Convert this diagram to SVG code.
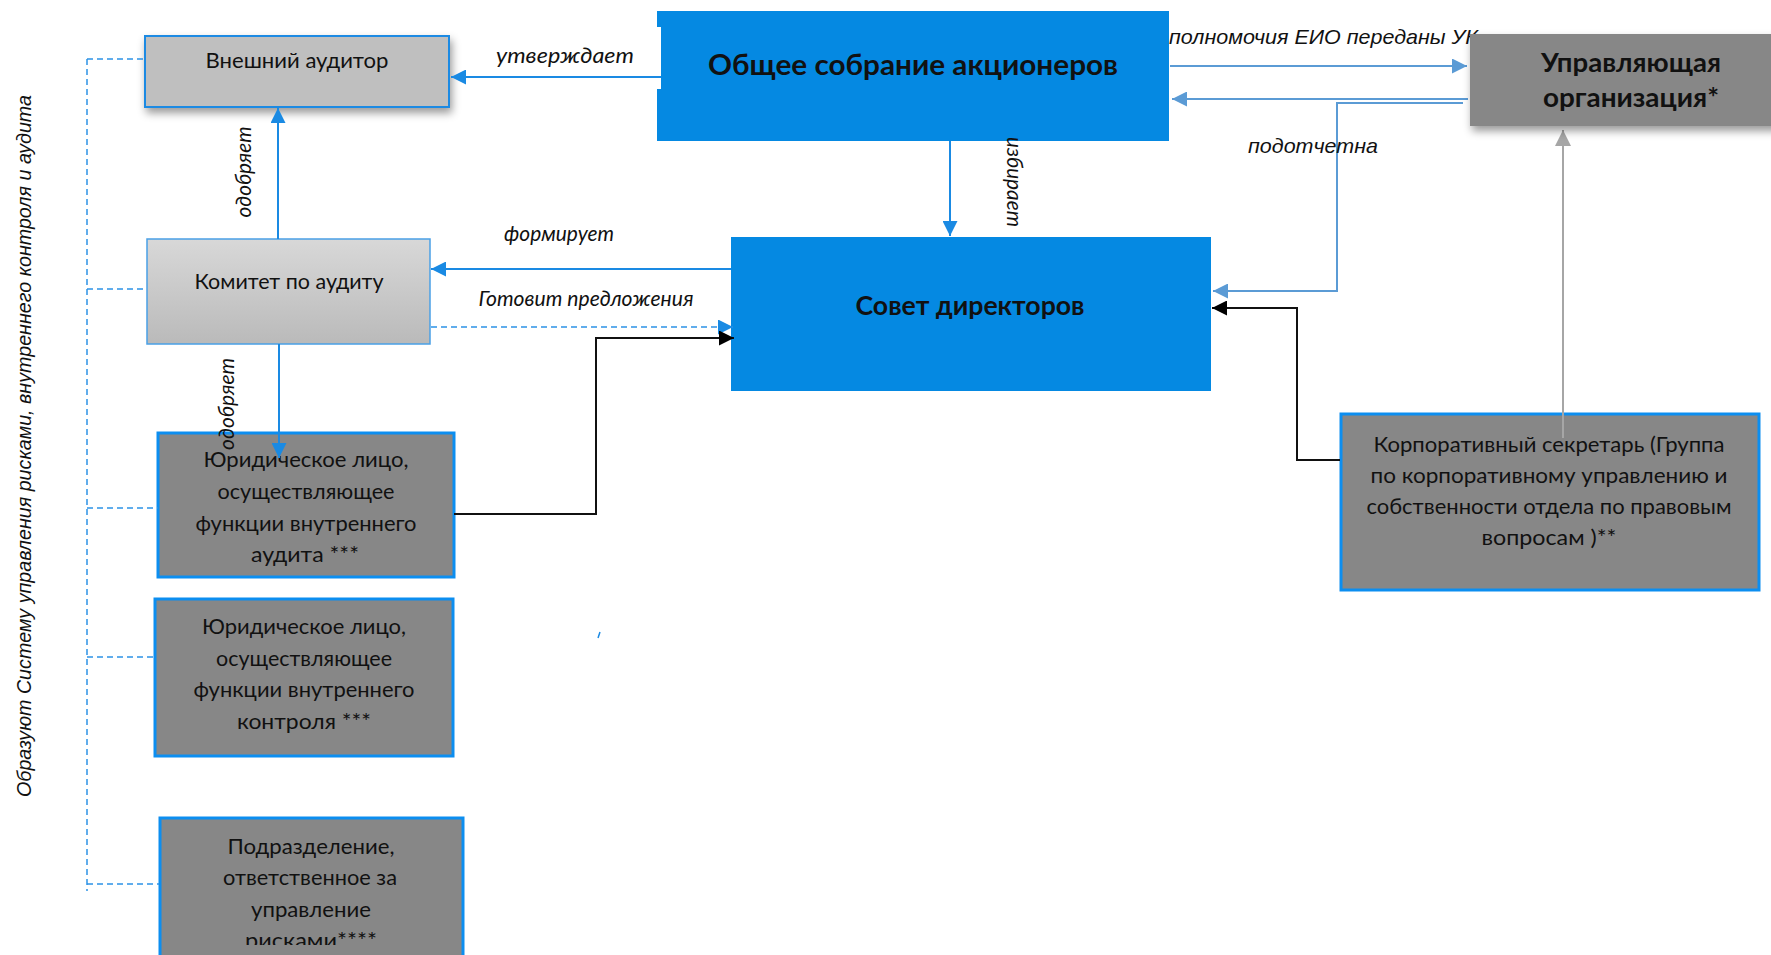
<svg xmlns="http://www.w3.org/2000/svg" width="1771" height="955" viewBox="0 0 1771 955">
<style>
.cal{font-family:Lato,"Open Sans","Noto Sans",sans-serif;fill:#111}
.n{font-size:22px}
.b{font-weight:bold}
.it{font-family:Lato,"Open Sans","Noto Sans",sans-serif;font-style:italic;font-size:21px;fill:#111}
.ar{font-family:"Liberation Sans",Arial,sans-serif;font-style:italic;font-size:21px;fill:#111}
.c{stroke:#1a8ae3;stroke-width:2;fill:none}
.lb{stroke:#5b9bd5;stroke-width:2;fill:none}
.bk{stroke:#111;stroke-width:2;fill:none}
.gr{stroke:#a6a6a6;stroke-width:2;fill:none}
.d{stroke:#2c93e6;stroke-width:1.5;stroke-dasharray:6 4;fill:none}
.blue{fill:#0589e2}
.gbox{fill:#878787;stroke:#0c8ef0;stroke-width:3}
</style>
<defs>
<marker id="mB" viewBox="0 0 10 10" refX="10" refY="5" markerWidth="15" markerHeight="15" markerUnits="userSpaceOnUse" orient="auto"><path d="M0,0L10,5L0,10z" fill="#1a8ae3"/></marker>
<marker id="mL" viewBox="0 0 10 10" refX="10" refY="5" markerWidth="15" markerHeight="15" markerUnits="userSpaceOnUse" orient="auto"><path d="M0,0L10,5L0,10z" fill="#5b9bd5"/></marker>
<marker id="mK" viewBox="0 0 10 10" refX="10" refY="5" markerWidth="15" markerHeight="15" markerUnits="userSpaceOnUse" orient="auto"><path d="M0,0L10,5L0,10z" fill="#000"/></marker>
<marker id="mG" viewBox="0 0 10 10" refX="10" refY="5" markerWidth="16" markerHeight="16" markerUnits="userSpaceOnUse" orient="auto"><path d="M0,0L10,5L0,10z" fill="#a6a6a6"/></marker>
<linearGradient id="gK" x1="0" y1="0" x2="0" y2="1"><stop offset="0" stop-color="#d8d8d8"/><stop offset="1" stop-color="#bababa"/></linearGradient>
<filter id="sh" x="-10%" y="-20%" width="130%" height="160%"><feDropShadow dx="2" dy="5" stdDeviation="4" flood-color="#000" flood-opacity="0.4"/></filter>
<clipPath id="cp"><rect x="150" y="800" width="320" height="145"/></clipPath>
</defs>

<g id="legend">
<text class="ar" transform="translate(31,446) rotate(-90)" text-anchor="middle" textLength="702" lengthAdjust="spacingAndGlyphs">Образуют Систему управления рисками, внутреннего контроля  и аудита</text>
</g>

<g id="n-external-auditor">
<rect x="145" y="36" width="304" height="71" fill="#bfbfbf" stroke="#1a8ae3" stroke-width="2" filter="url(#sh)"/>
<text class="cal n" x="297" y="68" text-anchor="middle" textLength="183" lengthAdjust="spacingAndGlyphs">Внешний аудитор</text>
</g>

<g id="n-general-meeting">
<rect class="blue" x="657" y="11" width="512" height="130"/>
<rect x="657" y="27" width="4" height="62" fill="#fff"/>
<text class="cal b" x="913" y="75" font-size="28" text-anchor="middle" textLength="410" lengthAdjust="spacingAndGlyphs">Общее собрание акционеров</text>
</g>

<g id="n-board">
<rect class="blue" x="731" y="237" width="480" height="154"/>
<text class="cal b" x="970" y="315" font-size="26" text-anchor="middle" textLength="229" lengthAdjust="spacingAndGlyphs">Совет директоров</text>
</g>

<g id="n-audit-committee">
<rect x="147" y="239" width="283" height="105" fill="url(#gK)" stroke="#4aa0e6" stroke-width="1.5"/>
<text class="cal n" x="289" y="289" text-anchor="middle" textLength="189" lengthAdjust="spacingAndGlyphs">Комитет по аудиту</text>
</g>

<g id="n-internal-audit">
<rect class="gbox" x="158" y="433" width="296" height="144"/>
<text class="cal n" x="306" y="467" text-anchor="middle" textLength="205" lengthAdjust="spacingAndGlyphs">Юридическое лицо,</text>
<text class="cal n" x="306" y="499" text-anchor="middle" textLength="177" lengthAdjust="spacingAndGlyphs">осуществляющее</text>
<text class="cal n" x="306" y="531" text-anchor="middle" textLength="221" lengthAdjust="spacingAndGlyphs">функции внутреннего</text>
<text class="cal n" x="305" y="562" text-anchor="middle" textLength="108" lengthAdjust="spacingAndGlyphs">аудита ***</text>
</g>

<g id="n-internal-control">
<rect class="gbox" x="155" y="599" width="298" height="157"/>
<text class="cal n" x="304" y="634" text-anchor="middle" textLength="204" lengthAdjust="spacingAndGlyphs">Юридическое лицо,</text>
<text class="cal n" x="304" y="666" text-anchor="middle" textLength="176" lengthAdjust="spacingAndGlyphs">осуществляющее</text>
<text class="cal n" x="304" y="697" text-anchor="middle" textLength="221" lengthAdjust="spacingAndGlyphs">функции внутреннего</text>
<text class="cal n" x="304" y="729" text-anchor="middle" textLength="134" lengthAdjust="spacingAndGlyphs">контроля ***</text>
</g>

<g id="n-risk-unit">
<rect class="gbox" x="160" y="818" width="303" height="150"/>
<g clip-path="url(#cp)">
<text class="cal n" x="311" y="854" text-anchor="middle" textLength="167" lengthAdjust="spacingAndGlyphs">Подразделение,</text>
<text class="cal n" x="310" y="885" text-anchor="middle" textLength="174" lengthAdjust="spacingAndGlyphs">ответственное за</text>
<text class="cal n" x="311" y="917" text-anchor="middle" textLength="120" lengthAdjust="spacingAndGlyphs">управление</text>
<text class="cal n" x="311" y="948" text-anchor="middle" textLength="132" lengthAdjust="spacingAndGlyphs">рисками****</text>
</g>
</g>

<g id="n-corp-secretary">
<rect class="gbox" x="1341" y="414" width="418" height="176"/>
<text class="cal n" x="1549" y="452" text-anchor="middle" textLength="351" lengthAdjust="spacingAndGlyphs">Корпоративный секретарь (Группа</text>
<text class="cal n" x="1549" y="483" text-anchor="middle" textLength="357" lengthAdjust="spacingAndGlyphs">по корпоративному  управлению и</text>
<text class="cal n" x="1549" y="514" text-anchor="middle" textLength="365" lengthAdjust="spacingAndGlyphs">собственности отдела по правовым</text>
<text class="cal n" x="1549" y="545" text-anchor="middle" textLength="135" lengthAdjust="spacingAndGlyphs">вопросам )**</text>
</g>

<g id="connectors">
<path class="d" d="M87,59V891M87,59H144M87,289H147M87,508H158M87,657H155M87,884H159"/>
<path class="c" d="M661,77H451" marker-end="url(#mB)"/>
<text class="it" x="565" y="63" text-anchor="middle" textLength="138" lengthAdjust="spacingAndGlyphs">утверждает</text>
<path class="c" d="M950,141V236" marker-end="url(#mB)"/>
<text class="it" transform="translate(1007,182) rotate(90)" text-anchor="middle" textLength="90" lengthAdjust="spacingAndGlyphs">избирает</text>
<path class="c" d="M278,239V108" marker-end="url(#mB)"/>
<text class="it" transform="translate(251,172) rotate(-90)" text-anchor="middle" textLength="91" lengthAdjust="spacingAndGlyphs">одобряет</text>
<path class="c" d="M279,344V458" marker-end="url(#mB)"/>
<text class="it" transform="translate(234,404) rotate(-90)" text-anchor="middle" textLength="92" lengthAdjust="spacingAndGlyphs">одобряет</text>
<path class="c" d="M731,269H431" marker-end="url(#mB)"/>
<text class="it" x="559" y="241" text-anchor="middle" textLength="110" lengthAdjust="spacingAndGlyphs">формирует</text>
<path class="d" d="M431,327H733" marker-end="url(#mB)"/>
<text class="it" x="586" y="306" text-anchor="middle" textLength="215" lengthAdjust="spacingAndGlyphs">Готовит предложения</text>
<path class="bk" d="M454,514H596V338H734" marker-end="url(#mK)"/>
<path class="bk" d="M1340,460H1297V308H1212" marker-end="url(#mK)"/>
<path class="lb" d="M1170,66H1467" marker-end="url(#mL)"/>
<path class="lb" d="M1468,99H1172" marker-end="url(#mL)"/>
<path class="lb" d="M1463,103H1337V291H1213" marker-end="url(#mL)"/>
<text class="ar" x="1313" y="153" text-anchor="middle" textLength="130" lengthAdjust="spacingAndGlyphs">подотчетна</text>
<text class="ar" x="1169" y="44" textLength="309" lengthAdjust="spacingAndGlyphs">полномочия ЕИО переданы УК</text>
<path class="gr" d="M1563,438V130" marker-end="url(#mG)"/>
<path d="M598,638L600,632" stroke="#1a8ae3" stroke-width="1.5"/>
</g>

<g id="n-management-company">
<rect x="1470" y="34" width="310" height="92" fill="#878787" filter="url(#sh)"/>
<text class="cal b" x="1631" y="72" font-size="26" text-anchor="middle" textLength="180" lengthAdjust="spacingAndGlyphs">Управляющая</text>
<text class="cal b" x="1631" y="107" font-size="26" text-anchor="middle" textLength="176" lengthAdjust="spacingAndGlyphs">организация*</text>
</g>
</svg>
